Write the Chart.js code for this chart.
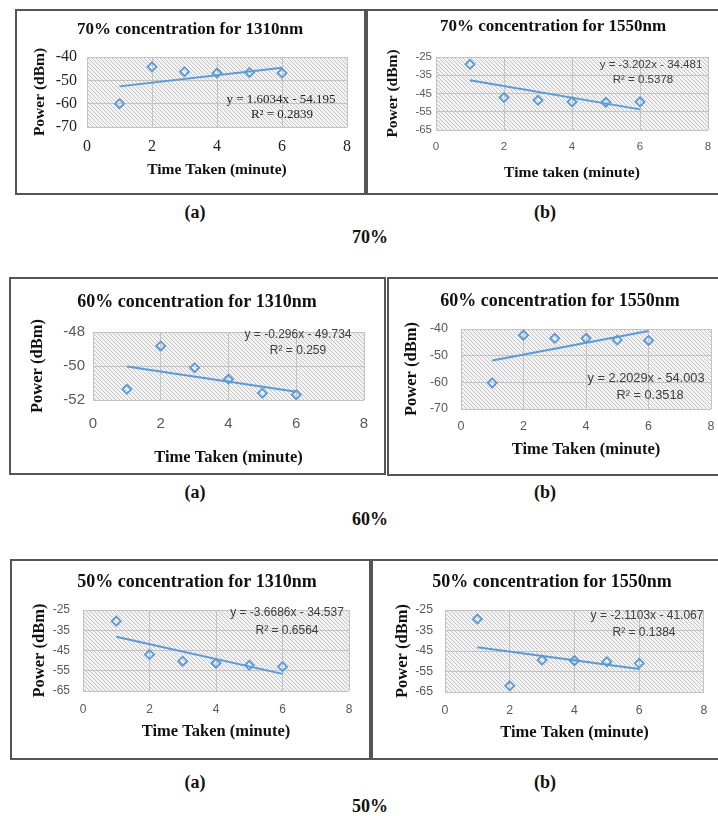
<!DOCTYPE html>
<html>
<head>
<meta charset="utf-8">
<script src="https://cdn.jsdelivr.net/npm/chart.js@4.4.0/dist/chart.umd.min.js"></script>
<style>
  body { margin: 0; background: #fff; width: 718px; height: 816px; position: relative; overflow: hidden; font-family: "Liberation Serif", serif; }
  .box { position: absolute; border: 2px solid #555; box-sizing: border-box; background: #fff; }
  .box canvas { position: absolute; left: 0; top: 0; }
  .lbl { position: absolute; transform: translate(-50%, -50%); font-weight: bold; font-size: 18px; white-space: nowrap; color: #111; }
</style>
</head>
<body>
<script>
// data
const times = [1, 2, 3, 4, 5, 6];
const power70_1310 = [-60, -44.2, -46.3, -46.9, -46.6, -46.9];
const power70_1550 = [-29, -47.2, -48.7, -49.6, -49.8, -49.6];
const power60_1310 = [-51.37, -48.82, -50.1, -50.78, -51.6, -51.69];
const power60_1550 = [-60.2, -42.3, -43.5, -43.5, -44.1, -44.3];
const power50_1310 = [-30.5, -47, -50.3, -51.3, -52.3, -53];
const power50_1550 = [-29.4, -62, -49.4, -49.7, -50.2, -51];

// trendline equations printed on each chart
const slopes = [1.6034, -3.202, -0.296, 2.2029, -3.6686, -2.1103];
const intercepts = [-54.195, -34.481, -49.734, -54.003, -34.537, -41.067];
const rSquared = ['0.2839', '0.5378', '0.259', '0.3518', '0.6564', '0.1384'];

const titles = ['70% concentration for 1310nm', '70% concentration for 1550nm',
  '60% concentration for 1310nm', '60% concentration for 1550nm',
  '50% concentration for 1310nm', '50% concentration for 1550nm'];
const xTitles = ['Time Taken (minute)', 'Time taken (minute)', 'Time Taken (minute)',
  'Time Taken (minute)', 'Time Taken (minute)', 'Time Taken (minute)'];
const yTitle = 'Power (dBm)';
const yMin = [-70, -65, -52, -70, -65, -65];
const yMax = [-40, -25, -48, -40, -25, -25];
const yStep = [10, 10, 2, 10, 10, 10];
const xTicks = [0, 2, 4, 6, 8];

const series = [power70_1310, power70_1550, power60_1310, power60_1550, power50_1310, power50_1550];

const SERIF = '"Liberation Serif", "Times New Roman", serif';
const SANS = '"Liberation Sans", Arial, sans-serif';

// page layout: box [x, y, w, h], plot [l, t, r, b]
const layouts = [
  { box: [15, 9, 351, 186], plot: [87, 57, 347, 127], title: [190, 30, 17], yTitleX: 40, xTitleY: 170, axisSize: 15.5,
    tick: { family: SERIF, size: 16, color: '#222', yGap: 10, xOff: 20 },
    eq: { family: SERIF, size: 13, color: '#222', p1: [281, 100], p2: [282, 115] } },
  { box: [366, 9, 360, 186], plot: [436, 57, 708, 130], title: [553, 27, 17], yTitleX: 393, xTitleY: 173, axisSize: 15.5,
    tick: { family: SANS, size: 11.5, color: '#595959', yGap: 4, xOff: 17 },
    eq: { family: SANS, size: 11.5, color: '#404040', p1: [651, 65], p2: [643, 80] } },
  { box: [9, 277, 377, 198], plot: [93, 332, 364, 400], title: [197, 302, 18], yTitleX: 38, xTitleY: 458, axisSize: 16.5,
    tick: { family: SANS, size: 15, color: '#595959', yGap: 8, xOff: 24 },
    eq: { family: SANS, size: 12, color: '#404040', p1: [298, 335], p2: [298, 351] } },
  { box: [387, 277, 340, 199], plot: [461, 329, 713, 409], title: [560, 301, 18], yTitleX: 412, xTitleY: 450, axisSize: 16.5,
    tick: { family: SANS, size: 12.5, color: '#595959', yGap: 13, xOff: 18 },
    eq: { family: SANS, size: 12.8, color: '#404040', p1: [646, 378], p2: [650, 395] } },
  { box: [10, 559, 361, 201], plot: [83, 610, 349, 691], title: [197, 582, 18], yTitleX: 40, xTitleY: 732, axisSize: 16.5,
    tick: { family: SANS, size: 12, color: '#595959', yGap: 13, xOff: 19 },
    eq: { family: SANS, size: 12, color: '#404040', p1: [287, 613], p2: [287, 631] } },
  { box: [371, 559, 350, 201], plot: [445, 610, 710, 692], title: [552, 582, 18], yTitleX: 403, xTitleY: 733, axisSize: 16.5,
    tick: { family: SANS, size: 12.3, color: '#595959', yGap: 12, xOff: 19 },
    eq: { family: SANS, size: 12, color: '#404040', p1: [647, 616], p2: [644, 633] } }
];

const captions = [
  ['(a)', 195, 212], ['(b)', 545, 212], ['70%', 370, 237],
  ['(a)', 195, 492], ['(b)', 545, 492], ['60%', 370, 519],
  ['(a)', 195, 782], ['(b)', 545, 782], ['50%', 370, 806]
];

const BLUE = '#5b9bd5';
const BW = 2; // box border width

function makeHatch() {
  const c = document.createElement('canvas');
  c.width = 4; c.height = 4;
  const g = c.getContext('2d');
  g.fillStyle = '#f3f3f3';
  g.fillRect(0, 0, 4, 4);
  g.strokeStyle = '#c4c4c4';
  g.lineWidth = 1;
  g.beginPath();
  g.moveTo(0, 0); g.lineTo(4, 4);
  g.moveTo(-1, 3); g.lineTo(1, 5);
  g.moveTo(3, -1); g.lineTo(5, 1);
  g.stroke();
  return c;
}
const hatchCanvas = makeHatch();

const hatchBg = {
  id: 'hatchBg',
  beforeDraw(chart) {
    const { ctx, chartArea: a } = chart;
    ctx.save();
    ctx.fillStyle = ctx.createPattern(hatchCanvas, 'repeat');
    ctx.fillRect(a.left, a.top, a.right - a.left, a.bottom - a.top);
    ctx.restore();
  }
};

const figText = {
  id: 'figText',
  afterDraw(chart, args, opts) {
    const ctx = chart.ctx;
    ctx.save();
    ctx.textAlign = 'center';
    ctx.textBaseline = 'middle';
    (opts.items || []).forEach(t => {
      ctx.font = t.font;
      ctx.fillStyle = t.color;
      ctx.fillText(t.text, t.x, t.y);
    });
    ctx.restore();
  }
};

function fmtEq(m, b) {
  const sign = b < 0 ? ' - ' : ' + ';
  return 'y = ' + m + 'x' + sign + Math.abs(b);
}

series.forEach((vals, i) => {
  const L = layouts[i];
  const [bx, by, bw, bh] = L.box;
  const [pl, pt, pr, pb] = L.plot;
  const ox = bx + BW, oy = by + BW;
  const cw = bw - 2 * BW, ch = bh - 2 * BW;

  const div = document.createElement('div');
  div.className = 'box';
  div.style.left = bx + 'px';
  div.style.top = by + 'px';
  div.style.width = bw + 'px';
  div.style.height = bh + 'px';
  const cv = document.createElement('canvas');
  cv.width = cw; cv.height = ch;
  cv.style.width = cw + 'px'; cv.style.height = ch + 'px';
  div.appendChild(cv);
  document.body.appendChild(div);

  const axisLH = L.axisSize * 1.2;
  const tickFont = { family: L.tick.family, size: L.tick.size };
  const axisFont = { family: SERIF, size: L.axisSize, weight: 'bold' };

  const x0 = times[0], x1 = times[times.length - 1];
  const trend = [
    { x: x0, y: slopes[i] * x0 + intercepts[i] },
    { x: x1, y: slopes[i] * x1 + intercepts[i] }
  ];

  new Chart(cv, {
    type: 'scatter',
    data: {
      datasets: [{
        data: times.map((t, k) => ({ x: t, y: vals[k] })),
        pointStyle: 'rectRot',
        pointRadius: 4.5,
        pointBorderWidth: 1.8,
        borderColor: BLUE,
        backgroundColor: 'rgba(255,255,255,0)',
        showLine: false
      }, {
        data: trend,
        showLine: true,
        borderColor: BLUE,
        borderWidth: 2,
        pointRadius: 0
      }]
    },
    options: {
      responsive: false,
      animation: false,
      layout: { padding: { left: 0, top: pt - oy, right: cw - (pr - ox), bottom: 0 } },
      plugins: {
        legend: { display: false },
        tooltip: { enabled: false },
        figText: {
          items: [
            { text: titles[i], x: L.title[0] - ox, y: L.title[1] - oy, font: 'bold ' + L.title[2] + 'px ' + SERIF, color: '#111' },
            { text: fmtEq(slopes[i], intercepts[i]), x: L.eq.p1[0] - ox, y: L.eq.p1[1] - oy, font: L.eq.size + 'px ' + L.eq.family, color: L.eq.color },
            { text: 'R² = ' + rSquared[i], x: L.eq.p2[0] - ox, y: L.eq.p2[1] - oy, font: L.eq.size + 'px ' + L.eq.family, color: L.eq.color }
          ]
        }
      },
      scales: {
        x: {
          type: 'linear',
          min: xTicks[0], max: xTicks[xTicks.length - 1],
          afterBuildTicks: s => { s.ticks = xTicks.map(v => ({ value: v })); },
          ticks: { font: tickFont, color: L.tick.color, padding: L.tick.xOff - 0.6 * L.tick.size },
          grid: { color: '#c2c2c2', drawTicks: false },
          border: { display: false },
          title: { display: true, text: xTitles[i], font: axisFont, color: '#111',
            padding: { top: 0, bottom: ch - (L.xTitleY - oy) - axisLH / 2 } },
          afterFit: s => { s.height = ch - (pb - oy); }
        },
        y: {
          min: yMin[i], max: yMax[i],
          ticks: { stepSize: yStep[i], font: tickFont, color: L.tick.color, padding: L.tick.yGap },
          grid: { color: '#c2c2c2', drawTicks: false },
          border: { display: false },
          title: { display: true, text: yTitle, font: axisFont, color: '#111',
            padding: { top: (L.yTitleX - ox) - axisLH / 2, bottom: 0 } },
          afterFit: s => { s.width = pl - ox; }
        }
      }
    },
    plugins: [hatchBg, figText]
  });
});

captions.forEach(([text, x, y]) => {
  const d = document.createElement('div');
  d.className = 'lbl';
  d.textContent = text;
  d.style.left = x + 'px';
  d.style.top = y + 'px';
  document.body.appendChild(d);
});
</script>
</body>
</html>
